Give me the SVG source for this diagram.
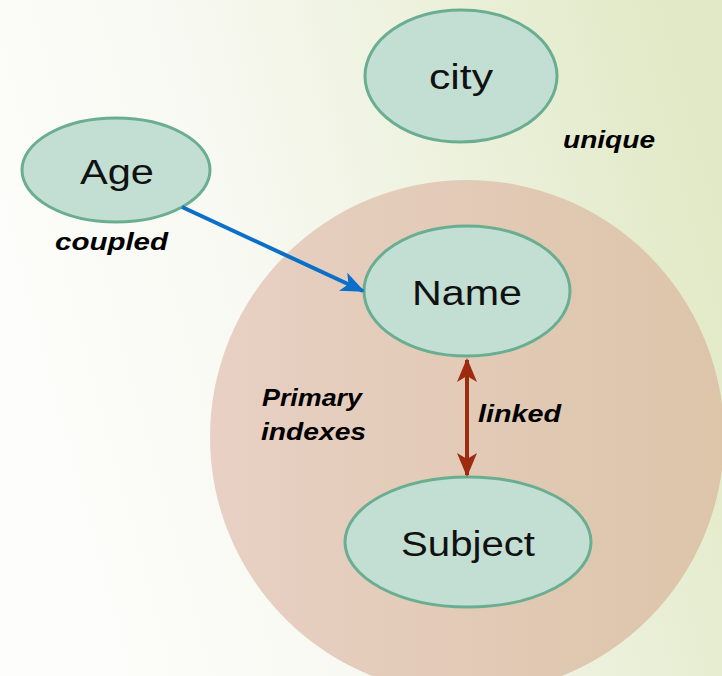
<svg xmlns="http://www.w3.org/2000/svg" width="722" height="676" viewBox="0 0 722 676">
  <defs>
    <linearGradient id="bg" x1="0" y1="0.55" x2="1" y2="0.3">
      <stop offset="0" stop-color="#fdfdfb"/>
      <stop offset="0.35" stop-color="#f8f9f2"/>
      <stop offset="1" stop-color="#e1e9c6"/>
    </linearGradient>
    <linearGradient id="big" x1="0" y1="0" x2="1" y2="0">
      <stop offset="0" stop-color="#e8d0c4"/>
      <stop offset="1" stop-color="#dcc5a9"/>
    </linearGradient>
    <marker id="blueHead" viewBox="0 0 12 10" refX="11" refY="5" markerWidth="6" markerHeight="5" orient="auto" markerUnits="strokeWidth">
      <path d="M0,0 L12,5 L0,10 L3,5 Z" fill="#0a6fc8"/>
    </marker>
    <marker id="redHead" viewBox="0 0 12 10" refX="11" refY="5" markerWidth="6" markerHeight="5" orient="auto-start-reverse" markerUnits="strokeWidth">
      <path d="M0,0 L12,5 L0,10 L3,5 Z" fill="#9e2a10"/>
    </marker>
  </defs>
  <style>
    .node ellipse { fill: #c3dfd3; stroke: #6aae91; stroke-width: 3; }
    .node text { font-family: "Liberation Sans", Arial, sans-serif; font-size: 35px; fill: #111; text-anchor: middle; }
    .lbl { font-family: "Liberation Sans", Arial, sans-serif; font-size: 24px; font-weight: bold; font-style: italic; fill: #000; }
  </style>
  <rect x="0" y="0" width="722" height="676" fill="url(#bg)"/>
  <g id="primary-indexes">
    <circle cx="467" cy="437" r="257" fill="url(#big)"/>
    <text class="lbl" x="262" y="406" textLength="100" lengthAdjust="spacingAndGlyphs">Primary</text>
    <text class="lbl" x="261" y="440" textLength="105" lengthAdjust="spacingAndGlyphs">indexes</text>
  </g>
  <g id="city" class="node">
    <ellipse cx="461" cy="76" rx="96" ry="66"/>
    <text x="461" y="89" textLength="64" lengthAdjust="spacingAndGlyphs">city</text>
  </g>
  <g id="age" class="node">
    <ellipse cx="116" cy="170" rx="94" ry="52"/>
    <text x="117" y="184" textLength="74" lengthAdjust="spacingAndGlyphs">Age</text>
  </g>
  <g id="name" class="node">
    <ellipse cx="467" cy="291" rx="103" ry="65"/>
    <text x="467" y="305" textLength="110" lengthAdjust="spacingAndGlyphs">Name</text>
  </g>
  <g id="subject" class="node">
    <ellipse cx="468" cy="542" rx="123" ry="65"/>
    <text x="468" y="556" textLength="134" lengthAdjust="spacingAndGlyphs">Subject</text>
  </g>
  <g id="connectors">
    <line x1="182" y1="207" x2="363" y2="291" stroke="#0a6fc8" stroke-width="4" marker-end="url(#blueHead)"/>
    <line x1="467" y1="360" x2="467" y2="475" stroke="#9e2a10" stroke-width="4" marker-start="url(#redHead)" marker-end="url(#redHead)"/>
  </g>
  <g id="labels">
    <text class="lbl" x="55" y="250" textLength="113" lengthAdjust="spacingAndGlyphs">coupled</text>
    <text class="lbl" x="563" y="148" textLength="92" lengthAdjust="spacingAndGlyphs">unique</text>
    <text class="lbl" x="478" y="422" textLength="83" lengthAdjust="spacingAndGlyphs">linked</text>
  </g>
</svg>
